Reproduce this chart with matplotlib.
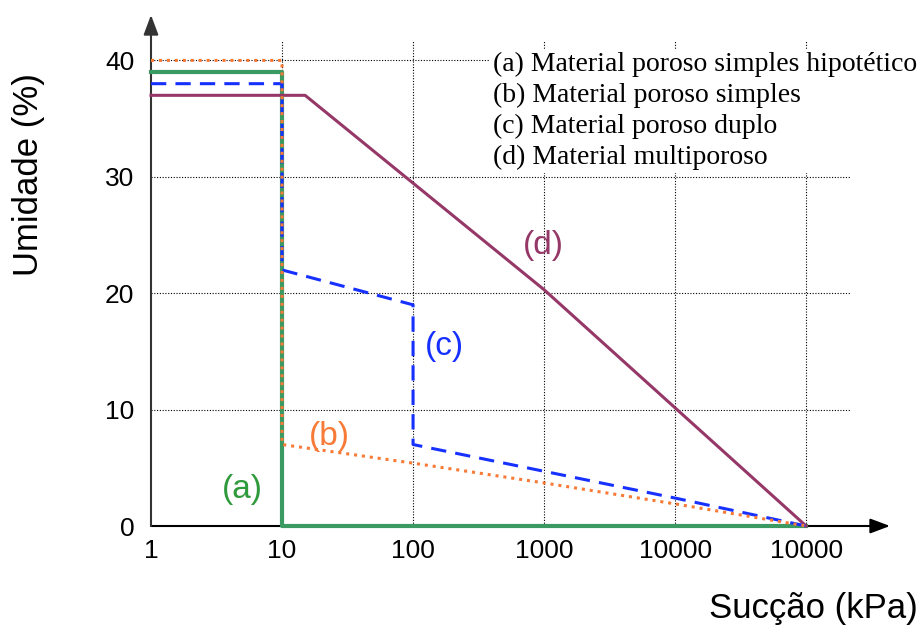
import numpy as np
import matplotlib.pyplot as plt

# curve data (suction in kPa, moisture in %)
suc_a = [1, 10, 10, 100000]
hum_a = [39, 39, 0, 0]

suc_b = [1, 10, 10, 100, 1000, 10000, 100000]
hum_b = [40, 40, 7, 5.4, 3.7, 1.9, 0]

suc_c = [1, 10, 10, 100, 100, 1000, 10000, 100000]
hum_c = [38, 38, 22, 19, 7, 4.7, 2.4, 0]

suc_d = [1, 15, 1000, 100000]
hum_d = [37, 37, 20.3, 0]

xticks = [1, 10, 100, 1000, 10000, 100000]
xtick_labels = ['1', '10', '100', '1000', '10000', '10000']
yticks = [0, 10, 20, 30, 40]

legend_lines = ['(a) Material poroso simples hipotético',
                '(b) Material poroso simples',
                '(c) Material poroso duplo',
                '(d) Material multiporoso']

c_green = '#3a9a62'
c_orange = '#f77a36'
c_blue = '#1630ff'
c_purple = '#953767'

plt.rcParams['font.family'] = 'Liberation Sans'

fig = plt.figure(figsize=(9.22, 6.30), dpi=100)
ax = fig.add_axes([151 / 922, 104 / 630, (890 - 151) / 922, (526 - 15) / 630])
ax.set_xscale('log')
ax.set_xlim(1, 10 ** 5.64)
ax.set_ylim(0, 43.9)

# dotted grid
grid_kw = dict(color='black', lw=0.8, linestyle=(0, (1, 1.5)), zorder=1)
ax.vlines(xticks[1:], 0, 41.7, **grid_kw)
ax.hlines(yticks[1:], 1, 10 ** 5.34, **grid_kw)

ax.plot(suc_a, hum_a, color=c_green, lw=3, zorder=3, clip_on=False)
ax.plot(suc_d, hum_d, color=c_purple, lw=2.2, zorder=3, clip_on=False)
ax.plot(suc_c, hum_c, color=c_blue, lw=2.2, dashes=(5, 3), zorder=4, clip_on=False)
ax.plot(suc_b, hum_b, color=c_orange, lw=2.2, linestyle=(0, (1, 1.6)), zorder=5, clip_on=False)

for s in ax.spines.values():
    s.set_visible(False)

# axes with arrow heads
arrow = '-|>,head_length=1.2,head_width=0.45'
ax.annotate('', xy=(1.0, 0), xytext=(0, 0), xycoords='axes fraction',
            arrowprops=dict(arrowstyle=arrow, color='black', lw=1.5,
                            shrinkA=0, shrinkB=0), zorder=2)
ax.annotate('', xy=(0, 1.0), xytext=(0, 0), xycoords='axes fraction',
            arrowprops=dict(arrowstyle=arrow, color='#333333', lw=1.5,
                            shrinkA=0, shrinkB=0), zorder=2)

ax.set_xticks(xticks)
ax.set_xticklabels(xtick_labels)
ax.minorticks_off()
ax.set_yticks(yticks)
ax.tick_params(length=0, labelsize=19)
ax.tick_params(axis='x', pad=9)
ax.tick_params(axis='y', pad=12)

ax.set_xlabel('Sucção (kPa)', fontsize=25, ha='right')
ax.xaxis.set_label_coords((918 - 151) / 739, -0.13)
ax.set_ylabel('Umidade (%)', fontsize=25)
ax.yaxis.set_label_coords(-0.143, (526 - 175) / 511)

ax.text(5.0, 3.1, '(a)', color='#2e9a3c', fontsize=24, ha='center', va='center')
ax.text(23, 7.65, '(b)', color=c_orange, fontsize=24, ha='center', va='center')
ax.text(175, 15.4, '(c)', color=c_blue, fontsize=24, ha='center', va='center')
ax.text(980, 24.1, '(d)', color=c_purple, fontsize=24, ha='center', va='center')

fig.text(493 / 922, 1 - 52 / 630, '\n'.join(legend_lines), family='Liberation Serif',
         fontsize=20, va='top', ha='left', linespacing=1.3,
         bbox=dict(facecolor='white', edgecolor='none', pad=2), zorder=10)

fig.savefig('out.png', dpi=100)
